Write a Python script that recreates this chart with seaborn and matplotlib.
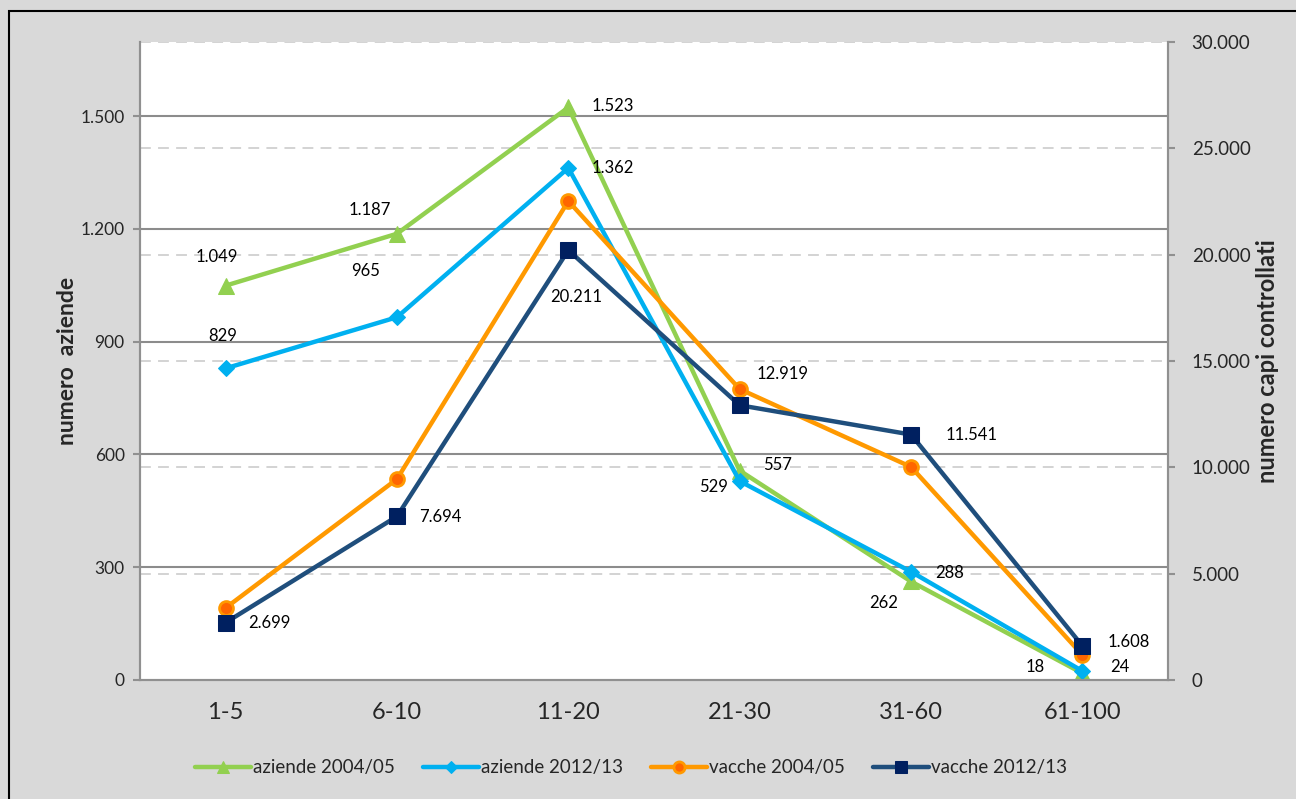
import numpy as np
import pandas as pd
import seaborn as sns
import matplotlib.pyplot as plt
from matplotlib.patches import Rectangle

sns.set_style("white")
plt.rcParams["font.family"] = ["Lato", "DejaVu Sans"]

# data
classes = ["1-5", "6-10", "11-20", "21-30", "31-60", "61-100"]
aziende_0405 = [1049, 1187, 1523, 557, 262, 18]
aziende_1213 = [829, 965, 1362, 529, 288, 24]
vacche_0405 = [3390, 9450, 22520, 13680, 10020, 1180]
vacche_1213 = [2699, 7694, 20211, 12919, 11541, 1608]

left_ticks = [0, 300, 600, 900, 1200, 1500]
right_ticks = [0, 5000, 10000, 15000, 20000, 25000, 30000]

# label offsets in pixels (dx, dy) for the labelled series
off_az05 = [(-9, 29), (-27, 24), (44, 1), (38, 6), (-27, -22), (-47, 6)]
off_az13 = [(-3, 32), (-31, 46), (44, 0), (-26, -6), (39, -1), (37, 4)]
off_va13 = [(44, 0), (43, -1), (8, -47), (43, 31), (61, 0), (46, 4)]

GREEN, CYAN, ORANGE, ORANGE_F = "#92D050", "#00B0F0", "#FF9900", "#FF6600"
NAVY_L, NAVY_F = "#1F4E7C", "#002060"
SPINE = "#909090"

def fmt(v):
    return f"{v:,}".replace(",", ".")

df = pd.DataFrame({"classe": classes, "pos": np.arange(len(classes)),
                   "az05": aziende_0405, "az13": aziende_1213,
                   "va05": vacche_0405, "va13": vacche_1213})

fig = plt.figure(figsize=(12.96, 7.99), dpi=100, facecolor="#D9D9D9")
ax = fig.add_axes([140 / 1296, 1 - 680 / 799, 1028 / 1296, 638 / 799])
ax.set_facecolor("white")
ax2 = ax.twinx()
ax2.patch.set_visible(False)

lw = 3.2
sns.lineplot(data=df, x="pos", y="az05", ax=ax, color=GREEN, lw=lw, marker="^",
             markersize=11, markeredgecolor=GREEN, label="aziende 2004/05")
sns.lineplot(data=df, x="pos", y="az13", ax=ax, color=CYAN, lw=lw, marker="D",
             markersize=8, markeredgecolor=CYAN, label="aziende 2012/13")
sns.lineplot(data=df, x="pos", y="va05", ax=ax2, color=ORANGE, lw=lw, marker="o",
             markersize=10, markerfacecolor=ORANGE_F, markeredgecolor=ORANGE,
             markeredgewidth=2, label="vacche 2004/05")
sns.lineplot(data=df, x="pos", y="va13", ax=ax2, color=NAVY_L, lw=lw, marker="s",
             markersize=11, markerfacecolor=NAVY_F, markeredgecolor=NAVY_F,
             label="vacche 2012/13")

ax.set_xlim(-0.5, len(classes) - 0.5)
ax.set_ylim(0, 1697)
ax2.set_ylim(0, 30000)

# grid: solid for left axis, dashed for right axis (drawn under the lines)
ax.hlines(left_ticks[1:], -0.5, len(classes) - 0.5, colors="#8C8C8C", lw=1.5, zorder=0.5)
ax.hlines(right_ticks[1:], -0.5, len(classes) - 0.5, colors="#D0D0D0", lw=1.3,
          linestyles=(0, (6, 4)), transform=ax2.transData, zorder=0.4)

ax.set_yticks(left_ticks)
ax.set_yticklabels([fmt(v) for v in left_ticks], fontsize=12.5)
ax2.set_yticks(right_ticks)
ax2.set_yticklabels([fmt(v) for v in right_ticks], fontsize=13.5)

ax.set_xticks(np.arange(-0.5, len(classes), 1))
ax.set_xticklabels([])
ax.set_xticks(np.arange(len(classes)), minor=True)
ax.set_xticklabels(classes, minor=True, fontsize=17)
ax.tick_params(axis="x", which="major", length=6, width=1.5, color=SPINE, direction="out")
ax.tick_params(axis="x", which="minor", length=0, pad=16)
ax.tick_params(axis="y", length=5, width=1.5, color=SPINE, direction="out", pad=6)
ax2.tick_params(axis="y", length=5, width=1.5, color=SPINE, direction="out", pad=12)

for a in (ax, ax2):
    for s in a.spines.values():
        s.set_color(SPINE)
        s.set_linewidth(1.5)
    a.spines["top"].set_visible(False)

ax.set_xlabel("")
ax.set_ylabel("numero  aziende", fontsize=16.5, fontweight="bold", labelpad=2)
ax2.set_ylabel("numero capi controllati", fontsize=17, fontweight="bold", labelpad=4)

# data labels
for vals, offs, a in ((aziende_0405, off_az05, ax), (aziende_1213, off_az13, ax),
                      (vacche_1213, off_va13, ax2)):
    for i, (v, (dx, dy)) in enumerate(zip(vals, offs)):
        a.annotate(fmt(v), (i, v), xytext=(dx, dy), textcoords="offset pixels",
                   ha="center", va="center", fontsize=12, color="black", zorder=10)

h1, l1 = ax.get_legend_handles_labels()
h2, l2 = ax2.get_legend_handles_labels()
ax.get_legend().remove()
ax2.get_legend().remove()
fig.legend(h1 + h2, l1 + l2, loc="center", bbox_to_anchor=(631 / 1296, 1 - 768 / 799),
           ncol=4, frameon=False, fontsize=13.5, handlelength=3.0, handletextpad=0.1,
           columnspacing=1.5, markerscale=0.8)

fig.patches.append(Rectangle((9 / 1296, -0.1), 1.2, (799 - 11) / 799 + 0.1,
                             transform=fig.transFigure, fill=False, ec="black", lw=1.5))

fig.savefig("out.png", dpi=100, facecolor=fig.get_facecolor())
plt.close(fig)
